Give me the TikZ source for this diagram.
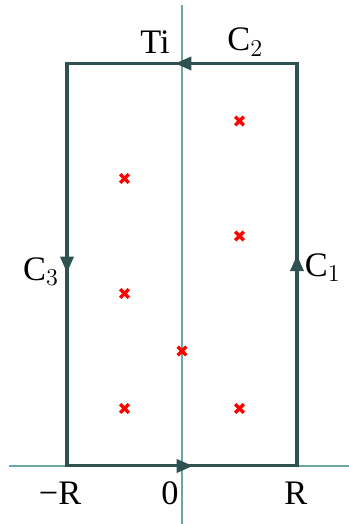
\documentclass[tikz,border=0pt]{standalone}
\usepackage{fontspec}
\setmainfont{Liberation Serif}
\usetikzlibrary{arrows.meta,calc}
\definecolor{axiscol}{HTML}{6BA6A6}
\definecolor{pathcol}{HTML}{2F5151}

\begin{document}
\begin{tikzpicture}[>={Triangle[length=8pt,width=6.5pt]},
    axis/.style={axiscol,line width=1.45pt},
    contour/.style={pathcol,line width=1.5pt},
    tip/.style={pathcol,line width=1.5pt,->},
    lbl/.style={font=\fontsize{17}{20}\selectfont},
    pole/.style={red,line width=1.7pt}]
    \useasboundingbox (-3.165,-1.009) rectangle (2.904,8.104);
    % axes
    \draw[axis] (-3.0,0) -- (2.904,0);
    \draw[axis] (0,-1.009) -- (0,8.02);
    % contour
    \coordinate (A) at (-2,0);
    \coordinate (B) at (2,0);
    \coordinate (Cc) at (2,7);
    \coordinate (D) at (-2,7);
    \draw[contour,line join=miter] (A) -- (B) -- (Cc) -- (D) -- cycle;
    \draw[tip] ($(A)!0.5!(B)$) -- ++(0.19,0);
    \draw[tip] ($(B)!0.5!(Cc)$) -- ++(0,0.17);
    \draw[tip] ($(Cc)!0.5!(D)$) -- ++(-0.12,0);
    \draw[tip] ($(D)!0.5!(A)$) -- ++(0,-0.14);
    % poles
    \foreach \x/\y in {1/6,-1/5,1/4,-1/3,0/2,-1/1,1/1}
      \draw[pole] (\x-0.075,\y-0.075) -- (\x+0.075,\y+0.075)
                  (\x-0.075,\y+0.075) -- (\x+0.075,\y-0.075);
    % labels
    \node[lbl] (ti) at (-0.47,7.37) {Ti};
    \node[lbl] (c2) at (1.1,7.37) {C$_2$};
    \node[lbl] (c3) at (-2.45,3.38) {C$_3$};
    \node[lbl] (c1) at (2.45,3.45) {C$_1$};
    \node[lbl] (mr) at (-2.12,-0.47) {\textminus R};
    \node[lbl] (zero) at (-0.21,-0.47) {0};
    \node[lbl] (r) at (1.98,-0.47) {R};
\end{tikzpicture}
\end{document}
